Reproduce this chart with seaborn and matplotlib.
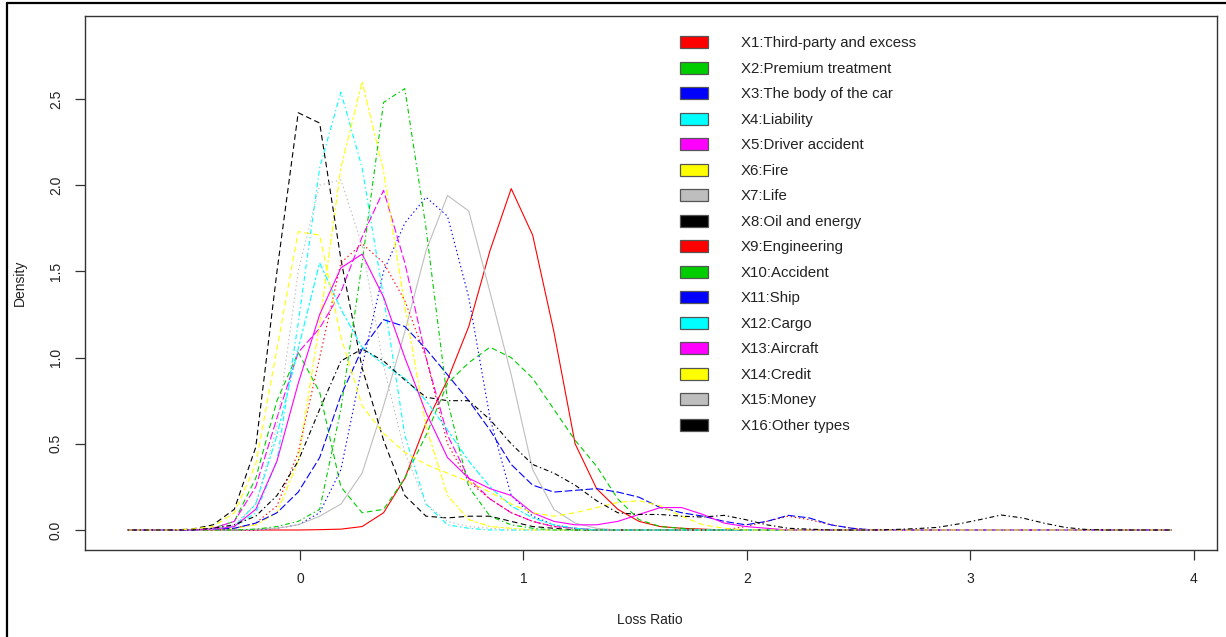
import numpy as np
import pandas as pd
import matplotlib
matplotlib.use("Agg")
import matplotlib.pyplot as plt
from matplotlib.patches import Patch
from matplotlib.lines import Line2D
import seaborn as sns

# ---------------- data ----------------
loss_ratio = [-0.770, -0.675, -0.579, -0.484, -0.389, -0.294, -0.198, -0.103, -0.008, 0.088,
              0.183, 0.278, 0.374, 0.469, 0.564, 0.660, 0.755, 0.850, 0.945, 1.041,
              1.136, 1.231, 1.327, 1.422, 1.517, 1.612, 1.708, 1.803, 1.898, 1.994,
              2.089, 2.184, 2.279, 2.375, 2.470, 2.565, 2.661, 2.756, 2.851, 2.946,
              3.042, 3.137, 3.232, 3.328, 3.423, 3.518, 3.613, 3.709, 3.804, 3.899]

series_names = ["X1:Third-party and excess", "X2:Premium treatment", "X3:The body of the car",
                "X4:Liability", "X5:Driver accident", "X6:Fire", "X7:Life", "X8:Oil and energy",
                "X9:Engineering", "X10:Accident", "X11:Ship", "X12:Cargo", "X13:Aircraft",
                "X14:Credit", "X15:Money", "X16:Other types"]

x1 = [0, 0, 0, 0, 0, 0, 0, 0, 0, 0.002,
      0.005, 0.02, 0.1, 0.3, 0.62, 0.87, 1.18, 1.62, 1.98, 1.71,
      1.15, 0.5, 0.24, 0.12, 0.05, 0.02, 0.01, 0.005, 0, 0,
      0, 0, 0, 0, 0, 0, 0, 0, 0, 0,
      0, 0, 0, 0, 0, 0, 0, 0, 0, 0]
x2 = [0, 0, 0, 0, 0.01, 0.05, 0.3, 0.75, 1.03, 0.8,
      0.25, 0.1, 0.12, 0.3, 0.55, 0.85, 0.97, 1.06, 1.0, 0.88,
      0.7, 0.52, 0.37, 0.18, 0.06, 0.02, 0.01, 0, 0, 0,
      0, 0, 0, 0, 0, 0, 0, 0, 0, 0,
      0, 0, 0, 0, 0, 0, 0, 0, 0, 0]
x3 = [0, 0, 0, 0, 0, 0, 0, 0.01, 0.03, 0.1,
      0.35, 0.95, 1.5, 1.78, 1.93, 1.82, 1.35, 0.65, 0.2, 0.08,
      0.03, 0.01, 0, 0, 0, 0, 0, 0, 0, 0,
      0, 0, 0, 0, 0, 0, 0, 0, 0, 0,
      0, 0, 0, 0, 0, 0, 0, 0, 0, 0]
x4 = [0, 0, 0, 0, 0.005, 0.02, 0.1, 0.4, 1.2, 2.1,
      2.54, 2.1, 1.35, 0.55, 0.15, 0.03, 0.01, 0, 0, 0,
      0, 0, 0, 0, 0, 0, 0, 0, 0, 0,
      0, 0, 0, 0, 0, 0, 0, 0, 0, 0,
      0, 0, 0, 0, 0, 0, 0, 0, 0, 0]
x5 = [0, 0, 0, 0, 0.01, 0.05, 0.25, 0.65, 1.03, 1.17,
      1.38, 1.7, 1.97, 1.55, 1.0, 0.55, 0.3, 0.18, 0.1, 0.05,
      0.02, 0.01, 0, 0, 0, 0, 0, 0, 0, 0,
      0, 0, 0, 0, 0, 0, 0, 0, 0, 0,
      0, 0, 0, 0, 0, 0, 0, 0, 0, 0]
x6 = [0, 0, 0, 0, 0, 0.01, 0.03, 0.1, 0.4, 1.2,
      2.1, 2.6, 2.08, 1.3, 0.6, 0.2, 0.06, 0.02, 0.01, 0,
      0, 0, 0, 0, 0, 0, 0, 0, 0, 0,
      0, 0, 0, 0, 0, 0, 0, 0, 0, 0,
      0, 0, 0, 0, 0, 0, 0, 0, 0, 0]
x7 = [0, 0, 0, 0, 0, 0, 0.005, 0.01, 0.03, 0.08,
      0.15, 0.33, 0.72, 1.15, 1.62, 1.94, 1.85, 1.38, 0.9, 0.35,
      0.12, 0.04, 0.01, 0, 0, 0, 0, 0, 0, 0,
      0, 0, 0, 0, 0, 0, 0, 0, 0, 0,
      0, 0, 0, 0, 0, 0, 0, 0, 0, 0]
x8 = [0, 0, 0, 0.005, 0.03, 0.12, 0.48, 1.5, 2.42, 2.36,
      1.57, 0.94, 0.52, 0.2, 0.08, 0.07, 0.08, 0.08, 0.05, 0.02,
      0.01, 0, 0, 0, 0, 0, 0, 0, 0, 0,
      0, 0, 0, 0, 0, 0, 0, 0, 0, 0,
      0, 0, 0, 0, 0, 0, 0, 0, 0, 0]
x9 = [0, 0, 0, 0, 0, 0.01, 0.04, 0.14, 0.45, 1.0,
      1.55, 1.66, 1.55, 1.33, 1.0, 0.5, 0.28, 0.18, 0.1, 0.05,
      0.02, 0.01, 0, 0, 0, 0, 0, 0, 0, 0.02,
      0.05, 0.08, 0.06, 0.03, 0.01, 0, 0, 0, 0, 0,
      0, 0, 0, 0, 0, 0, 0, 0, 0, 0]
x10 = [0, 0, 0, 0, 0, 0, 0.005, 0.02, 0.05, 0.12,
       0.7, 1.55, 2.48, 2.56, 1.75, 0.75, 0.25, 0.08, 0.03, 0.01,
       0, 0, 0, 0, 0, 0, 0, 0, 0, 0,
       0, 0, 0, 0, 0, 0, 0, 0, 0, 0,
       0, 0, 0, 0, 0, 0, 0, 0, 0, 0]
x11 = [0, 0, 0, 0, 0.005, 0.01, 0.04, 0.1, 0.22, 0.42,
       0.78, 1.05, 1.22, 1.18, 1.05, 0.9, 0.75, 0.58, 0.38, 0.26,
       0.22, 0.23, 0.24, 0.22, 0.19, 0.13, 0.1, 0.08, 0.05, 0.03,
       0.05, 0.085, 0.07, 0.03, 0.01, 0, 0, 0, 0, 0,
       0, 0, 0, 0, 0, 0, 0, 0, 0, 0]
x12 = [0, 0, 0, 0, 0.005, 0.02, 0.15, 0.55, 1.05, 1.55,
       1.28, 1.06, 0.96, 0.88, 0.75, 0.58, 0.4, 0.25, 0.14, 0.07,
       0.03, 0.01, 0, 0, 0, 0, 0, 0, 0, 0,
       0, 0, 0, 0, 0, 0, 0, 0, 0, 0,
       0, 0, 0, 0, 0, 0, 0, 0, 0, 0]
x13 = [0, 0, 0, 0, 0.005, 0.02, 0.12, 0.4, 0.85, 1.25,
       1.52, 1.6, 1.35, 1.0, 0.68, 0.42, 0.3, 0.24, 0.2, 0.1,
       0.05, 0.03, 0.03, 0.05, 0.09, 0.13, 0.13, 0.09, 0.04, 0.02,
       0.01, 0, 0, 0, 0, 0, 0, 0, 0, 0,
       0, 0, 0, 0, 0, 0, 0, 0, 0, 0]
x14 = [0, 0, 0, 0.005, 0.02, 0.1, 0.38, 1.05, 1.73, 1.71,
       1.12, 0.72, 0.56, 0.45, 0.38, 0.33, 0.28, 0.22, 0.15, 0.1,
       0.08, 0.1, 0.13, 0.16, 0.17, 0.14, 0.08, 0.03, 0.01, 0,
       0, 0, 0, 0, 0, 0, 0, 0, 0, 0,
       0, 0, 0, 0, 0, 0, 0, 0, 0, 0]
x15 = [0, 0, 0, 0, 0.005, 0.03, 0.15, 0.6, 1.5, 2.0,
       2.03, 1.65, 0.95, 0.45, 0.15, 0.05, 0.02, 0.01, 0, 0,
       0, 0, 0, 0, 0, 0, 0, 0, 0, 0,
       0, 0, 0, 0, 0, 0, 0, 0, 0, 0,
       0, 0, 0, 0, 0, 0, 0, 0, 0, 0]
x16 = [0, 0, 0, 0, 0.01, 0.03, 0.08, 0.2, 0.4, 0.7,
       0.98, 1.05, 0.98, 0.87, 0.77, 0.75, 0.75, 0.64, 0.5, 0.38,
       0.33, 0.26, 0.17, 0.1, 0.09, 0.09, 0.08, 0.075, 0.085, 0.06,
       0.03, 0.01, 0.005, 0, 0, 0, 0.003, 0.008, 0.015, 0.035,
       0.06, 0.087, 0.07, 0.04, 0.015, 0.003, 0, 0, 0, 0]

series_values = [x1, x2, x3, x4, x5, x6, x7, x8, x9, x10, x11, x12, x13, x14, x15, x16]

y_ticks = [0.0, 0.5, 1.0, 1.5, 2.0, 2.5]
y_tick_labels = ["0.0", "0.5", "1.0", "1.5", "2.0", "2.5"]
x_ticks = [0, 1, 2, 3, 4]
x_tick_labels = ["0", "1", "2", "3", "4"]

# ---------------- styles ----------------
base_colors = ["#FF0000", "#00CD00", "#0000FF", "#00FFFF",
               "#FF00FF", "#FFFF00", "#BEBEBE", "#000000"]
base_dashes = ["", (4, 2.5), (1, 2), (1, 2, 3.5, 2), (5.5, 2), (2, 1.5, 4.5, 1.5)]
palette = {n: base_colors[i % 8] for i, n in enumerate(series_names)}
dashes = {n: base_dashes[i % 6] for i, n in enumerate(series_names)}

# ---------------- figure ----------------
sns.set_theme(style="white")
plt.rcParams["font.family"] = ["Liberation Sans", "DejaVu Sans"]
plt.rcParams["lines.scale_dashes"] = False

W, H = 1226, 637
fig = plt.figure(figsize=(W / 100, H / 100), dpi=100)
fig.patch.set_facecolor("white")
ax = fig.add_axes([85 / W, 1 - 550 / H, (1217 - 85) / W, (550 - 16) / H])

rows = []
for name, vals in zip(series_names, series_values):
    for xv, yv in zip(loss_ratio, vals):
        rows.append((name, xv, yv))
df = pd.DataFrame(rows, columns=["series", "Loss Ratio", "Density"])

sns.lineplot(data=df, x="Loss Ratio", y="Density", hue="series", style="series",
             hue_order=series_names, style_order=series_names,
             palette=palette, dashes=dashes, linewidth=0.8,
             estimator=None, sort=False, legend=False, ax=ax)

ax.set_xlim(-0.962, 4.103)
ax.set_ylim(-0.116, 2.981)
ax.set_xticks(x_ticks)
ax.set_xticklabels(x_tick_labels)
ax.set_yticks(y_ticks)
ax.set_yticklabels(y_tick_labels, rotation=90, va="center")

txt_color = "#222222"
for s in ax.spines.values():
    s.set_visible(True)
    s.set_color("#333333")
    s.set_linewidth(1.0)
ax.tick_params(axis="both", which="major", direction="out", length=7, width=0.9,
               color="#333333", labelcolor=txt_color, labelsize=10, pad=9,
               bottom=True, left=True)

ax.set_xlabel("Loss Ratio", fontsize=10, color=txt_color)
ax.set_ylabel("Density", fontsize=10, color=txt_color)
ax.xaxis.label.set_va("center")
ax.yaxis.label.set_va("center")
ax.xaxis.set_label_coords((650 - 85) / (1217 - 85), (550 - 620) / (550 - 16))
ax.yaxis.set_label_coords((20 - 85) / (1217 - 85), (550 - 283) / (550 - 16))

# legend
handles = [Patch(facecolor=palette[n], edgecolor="#555555", linewidth=0.9) for n in series_names]
fs = 10.8
leg = ax.legend(handles, series_names, loc="upper left",
                bbox_to_anchor=(680 / W, 1 - 36 / H), bbox_transform=fig.transFigure,
                frameon=False, fontsize=fs, borderpad=0, borderaxespad=0,
                handlelength=1.87, handleheight=0.87, handletextpad=2.2,
                labelspacing=0.75)
for t in leg.get_texts():
    t.set_color(txt_color)

# outer frame of the picture
fig.add_artist(Line2D([7 / W, 7 / W], [0, 1 - 3 / H], color="black", linewidth=1.6,
                      transform=fig.transFigure))
fig.add_artist(Line2D([7 / W, 1], [1 - 3 / H, 1 - 3 / H], color="black", linewidth=1.6,
                      transform=fig.transFigure))

fig.savefig("out.png", dpi=100, facecolor="white")
